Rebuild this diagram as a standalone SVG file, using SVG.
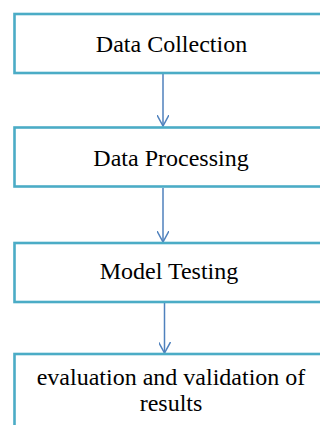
<svg xmlns="http://www.w3.org/2000/svg" width="320" height="425" viewBox="0 0 320 425">
<style>
.box{fill:#ffffff;stroke:#4bacc6;stroke-width:2.6}
.lbl{font-family:"Liberation Serif","Times New Roman",serif;font-size:24px;fill:#000000;text-anchor:middle}
.con{stroke:#4f81bd;stroke-width:1.5;fill:none}
</style>
<defs>
<marker id="arr" viewBox="0 0 12 12" refX="11" refY="6" markerWidth="12" markerHeight="12" markerUnits="userSpaceOnUse" orient="auto">
<path d="M0,0 L11,6 L0,12" fill="none" stroke="#4f81bd" stroke-width="1.5"/>
</marker>
</defs>
<rect width="320" height="425" fill="#ffffff"/>
<g id="connectors">
<line class="con" x1="163" y1="74" x2="163" y2="126" marker-end="url(#arr)"/>
<line class="con" x1="163" y1="188" x2="163" y2="242" marker-end="url(#arr)"/>
<line class="con" x1="164.5" y1="303" x2="164.5" y2="353" marker-end="url(#arr)"/>
</g>
<g id="node1">
<rect class="box" x="14.5" y="14" width="320" height="59"/>
<text class="lbl" x="171.5" y="51.5">Data Collection</text>
</g>
<g id="node2">
<rect class="box" x="14.5" y="127.5" width="320" height="59"/>
<text class="lbl" x="171" y="166">Data Processing</text>
</g>
<g id="node3">
<rect class="box" x="14.5" y="243" width="320" height="59"/>
<text class="lbl" x="169" y="278.5">Model Testing</text>
</g>
<g id="node4">
<rect class="box" x="14.5" y="354" width="320" height="100"/>
<text class="lbl" x="171" y="385">evaluation and validation of</text>
<text class="lbl" x="171" y="411">results</text>
</g>
</svg>
